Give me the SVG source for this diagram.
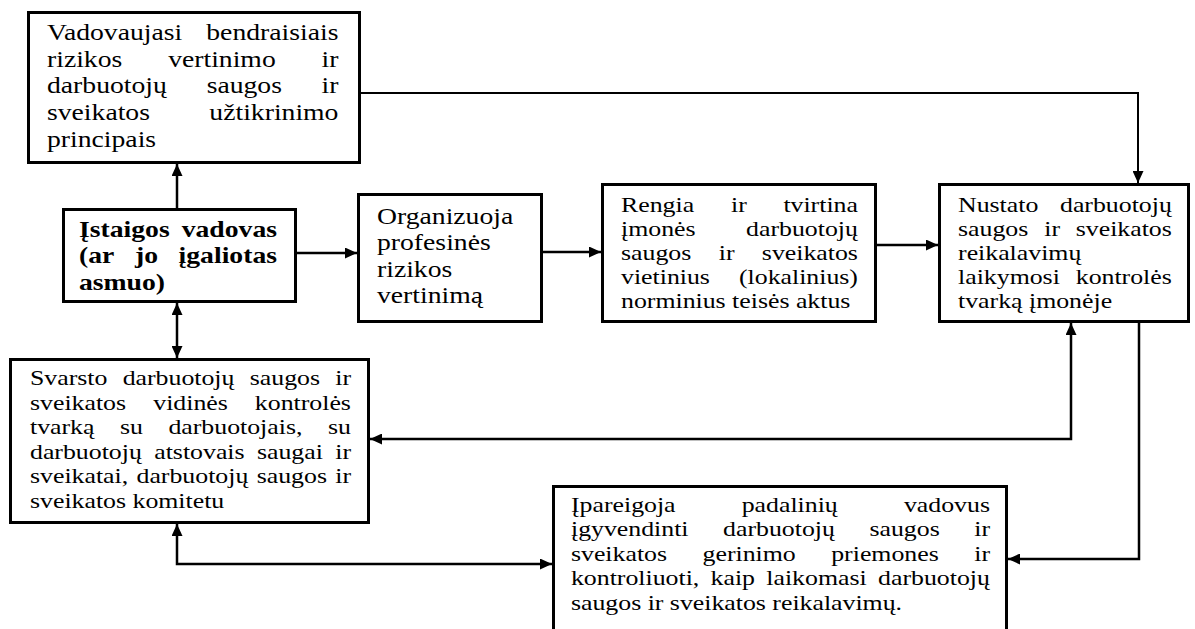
<svg xmlns="http://www.w3.org/2000/svg" width="1195" height="629" viewBox="0 0 1195 629">
<style>
  .box { fill: #fff; stroke: #000; stroke-width: 3; }
  .t { font-family: "Liberation Serif", "Times New Roman", serif; fill: #000; }
  .big { font-size: 22.5px; }
  .small { font-size: 21px; }
  .bold { font-weight: bold; }
  .conn { fill: none; stroke: #000; stroke-width: 2.5; }
  .thin { stroke-width: 2; }
</style>
<defs>
  <marker id="arr" viewBox="0 0 12 11" refX="12" refY="5.5" markerWidth="12" markerHeight="11" markerUnits="userSpaceOnUse" orient="auto-start-reverse">
    <path d="M0,0 L12,5.5 L0,11 z" fill="#000"/>
  </marker>
</defs>
<rect width="1195" height="629" fill="#fff"/>

<g id="connectors">
  <path class="conn thin" d="M360,93 H1138 V183" marker-end="url(#arr)"/>
  <path class="conn" d="M177,208 V164" marker-end="url(#arr)"/>
  <path class="conn" d="M177,303 V358" marker-start="url(#arr)" marker-end="url(#arr)"/>
  <path class="conn" d="M297,253 H357" marker-end="url(#arr)"/>
  <path class="conn" d="M543,252 H601" marker-end="url(#arr)"/>
  <path class="conn" d="M877,245 H938" marker-end="url(#arr)"/>
  <path class="conn" d="M370,439 H1071 V323" marker-start="url(#arr)" marker-end="url(#arr)"/>
  <path class="conn" d="M1139,323 V559 H1008" marker-end="url(#arr)"/>
  <path class="conn" d="M177,524 V564 H552" marker-start="url(#arr)" marker-end="url(#arr)"/>
</g>

<g id="node-principai">
  <rect class="box" x="28.5" y="12.5" width="331" height="150"/>
  <text class="t big" transform="scale(1.23 1)">
    <tspan x="38.2" y="40">Vadovaujasi</tspan><tspan x="167.7" y="40">bendraisiais</tspan>
    <tspan x="38.2" y="66.7">rizikos</tspan><tspan x="136.7" y="66.7">vertinimo</tspan><tspan x="261.4" y="66.7">ir</tspan>
    <tspan x="38.2" y="93.3">darbuotojų</tspan><tspan x="168" y="93.3">saugos</tspan><tspan x="261.4" y="93.3">ir</tspan>
    <tspan x="38.2" y="120">sveikatos</tspan><tspan x="170.2" y="120">užtikrinimo</tspan>
    <tspan x="38.2" y="146.7">principais</tspan>
  </text>
</g>

<g id="node-vadovas">
  <rect class="box" x="63.5" y="209.5" width="232" height="92"/>
  <text class="t big bold" transform="scale(1.23 1)">
    <tspan x="64.2" y="237">Įstaigos</tspan><tspan x="147.7" y="237">vadovas</tspan>
    <tspan x="64.2" y="263.5">(ar</tspan><tspan x="109.7" y="263.5">jo</tspan><tspan x="145.2" y="263.5">įgaliotas</tspan>
    <tspan x="64.2" y="290">asmuo)</tspan>
  </text>
</g>

<g id="node-organizuoja">
  <rect class="box" x="358.5" y="194.5" width="183" height="127"/>
  <text class="t big" transform="scale(1.23 1)">
    <tspan x="306.5" y="224">Organizuoja</tspan>
    <tspan x="306.5" y="250.5">profesinės</tspan>
    <tspan x="306.5" y="277">rizikos</tspan>
    <tspan x="306.5" y="303.5">vertinimą</tspan>
  </text>
</g>

<g id="node-rengia">
  <rect class="box" x="602.5" y="184.5" width="273" height="137"/>
  <text class="t small" transform="scale(1.23 1)">
    <tspan x="504.9" y="212">Rengia</tspan><tspan x="594.3" y="212">ir</tspan><tspan x="636.9" y="212">tvirtina</tspan>
    <tspan x="504.9" y="236">įmonės</tspan><tspan x="606.6" y="236">darbuotojų</tspan>
    <tspan x="504.9" y="260">saugos</tspan><tspan x="584.4" y="260">ir</tspan><tspan x="619.4" y="260">sveikatos</tspan>
    <tspan x="504.9" y="284">vietinius</tspan><tspan x="600.8" y="284">(lokalinius)</tspan>
    <tspan x="504.9" y="308">norminius teisės aktus</tspan>
  </text>
</g>

<g id="node-nustato">
  <rect class="box" x="939.5" y="184.5" width="249" height="137"/>
  <text class="t small" transform="scale(1.23 1)">
    <tspan x="778.9" y="212">Nustato</tspan><tspan x="861.8" y="212">darbuotojų</tspan>
    <tspan x="778.9" y="236">saugos</tspan><tspan x="849" y="236">ir</tspan><tspan x="874.6" y="236">sveikatos</tspan>
    <tspan x="778.9" y="260">reikalavimų</tspan>
    <tspan x="778.9" y="284">laikymosi</tspan><tspan x="874.6" y="284">kontrolės</tspan>
    <tspan x="778.9" y="308">tvarką įmonėje</tspan>
  </text>
</g>

<g id="node-svarsto">
  <rect class="box" x="10.5" y="359.5" width="358" height="163"/>
  <text class="t small" transform="scale(1.23 1)">
    <tspan x="24.4" y="385">Svarsto</tspan><tspan x="99.7" y="385">darbuotojų</tspan><tspan x="203.1" y="385">saugos</tspan><tspan x="272.6" y="385">ir</tspan>
    <tspan x="24.4" y="409.6">sveikatos</tspan><tspan x="124.6" y="409.6">vidinės</tspan><tspan x="207.2" y="409.6">kontrolės</tspan>
    <tspan x="24.4" y="434.2">tvarką</tspan><tspan x="97.6" y="434.2">su</tspan><tspan x="136.9" y="434.2">darbuotojais,</tspan><tspan x="266.7" y="434.2">su</tspan>
    <tspan x="24.4" y="458.8">darbuotojų</tspan><tspan x="125.4" y="458.8">atstovais</tspan><tspan x="208.9" y="458.8">saugai</tspan><tspan x="272.6" y="458.8">ir</tspan>
    <tspan x="24.4" y="483.4">sveikatai,</tspan><tspan x="111" y="483.4">darbuotojų</tspan><tspan x="208.7" y="483.4">saugos</tspan><tspan x="272.6" y="483.4">ir</tspan>
    <tspan x="24.4" y="508">sveikatos komitetu</tspan>
  </text>
</g>

<g id="node-ipareigoja">
  <rect class="box" x="553.5" y="486.5" width="453" height="160"/>
  <text class="t small" transform="scale(1.23 1)">
    <tspan x="464.2" y="512">Įpareigoja</tspan><tspan x="603" y="512">padalinių</tspan><tspan x="734.9" y="512">vadovus</tspan>
    <tspan x="464.2" y="536.5">įgyvendinti</tspan><tspan x="587.9" y="536.5">darbuotojų</tspan><tspan x="706.9" y="536.5">saugos</tspan><tspan x="792.1" y="536.5">ir</tspan>
    <tspan x="464.2" y="561">sveikatos</tspan><tspan x="571.2" y="561">gerinimo</tspan><tspan x="675.8" y="561">priemones</tspan><tspan x="792.1" y="561">ir</tspan>
    <tspan x="464.2" y="585.5">kontroliuoti,</tspan><tspan x="577.7" y="585.5">kaip</tspan><tspan x="623" y="585.5">laikomasi</tspan><tspan x="713.9" y="585.5">darbuotojų</tspan>
    <tspan x="464.2" y="610">saugos ir sveikatos reikalavimų.</tspan>
  </text>
</g>
</svg>
